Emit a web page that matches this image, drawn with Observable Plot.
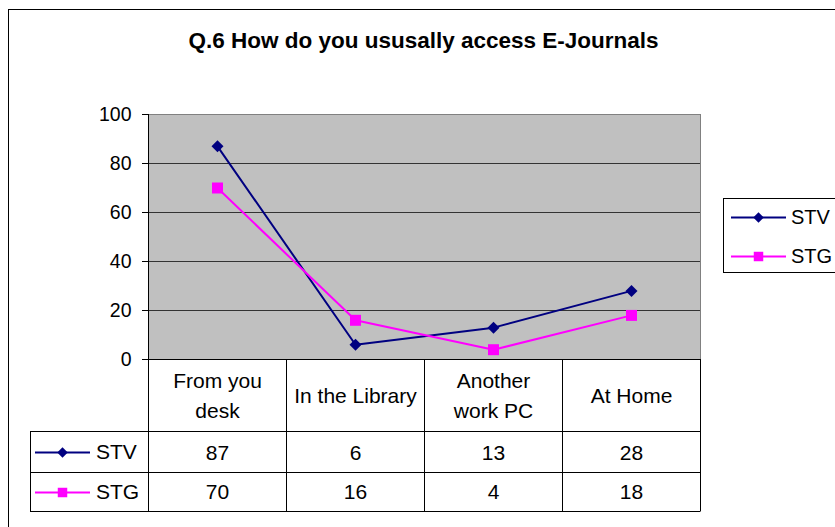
<!DOCTYPE html>
<html><head><meta charset="utf-8">
<script src="https://cdn.jsdelivr.net/npm/d3@7"></script>
<script src="https://cdn.jsdelivr.net/npm/@observablehq/plot@0.6"></script>
<style>
html,body{margin:0;padding:0;background:#fff;}
#chart svg{display:block;}
</style></head><body><div id="chart"></div>
<script>
const title = "Q.6 How do you ususally access E-Journals";
const categories = ["From you desk","In the Library","Another work PC","At Home"];
const headerLabels = ["From you\ndesk","In the Library","Another\nwork PC","At Home"];
const seriesNames = ["STV","STG"];
const stvValues = [87,6,13,28];
const stgValues = [70,16,4,18];
const yTicks = [0,20,40,60,80,100];
const seriesColors = ["#000080","#FF00FF"];
const seriesSymbols = ["diamond2","square"];

const rows = [];
[stvValues, stgValues].forEach((vals, s) => vals.forEach((v, i) => rows.push({series: seriesNames[s], cat: categories[i], value: v})));
const headers = categories.map((c, i) => ({cat: c, label: headerLabels[i]}));
const font = "'Liberation Sans', Arial, sans-serif";
const px = v => Math.round(v) + 0.5;

function drawLegendEntry(g, s, x0, x1, yc, textX, fontSize) {
  g.append("line").attr("x1", x0).attr("x2", x1).attr("y1", px(yc)).attr("y2", px(yc))
    .attr("stroke", seriesColors[s]).attr("stroke-width", 2);
  const sym = s === 0 ? d3.symbol(d3.symbolDiamond2, 70) : d3.symbol(d3.symbolSquare, 90);
  g.append("path").attr("d", sym()).attr("transform", `translate(${(x0 + x1) / 2},${px(yc)})`)
    .attr("fill", seriesColors[s]);
  g.append("text").attr("x", textX).attr("y", yc).attr("dy", "0.36em").attr("text-anchor", "start")
    .attr("font-size", fontSize).attr("fill", "#000").text(seriesNames[s]);
}

function decorations(index, scales) {
  const x = scales.x, y = scales.y;
  const bw = x(categories[1]) - x(categories[0]);
  const left = x(categories[0]);
  const right = x(categories[categories.length - 1]) + bw;
  const top = y(100), base = y(0);
  const g = d3.create("svg:g").attr("font-family", font);
  // outer chart border (cropped at right/bottom)
  g.append("rect").attr("x", 8.5).attr("y", 9.5).attr("width", 1000).attr("height", 1000)
    .attr("fill", "none").attr("stroke", "#000");
  // plot area border
  g.append("rect").attr("x", px(left)).attr("y", px(top)).attr("width", Math.round(right - left)).attr("height", Math.round(base - top))
    .attr("fill", "none").attr("stroke", "#808080");
  // data table
  const headerBottom = base + 72, row1Bottom = base + 113, tableBottom = base + 152;
  const legendLeft = 30;
  const t = g.append("g").attr("stroke", "#000").attr("stroke-width", 1);
  categories.forEach(c => {
    t.append("line").attr("x1", px(x(c))).attr("x2", px(x(c))).attr("y1", base).attr("y2", tableBottom);
  });
  t.append("line").attr("x1", px(right)).attr("x2", px(right)).attr("y1", base).attr("y2", tableBottom);
  [headerBottom, row1Bottom, tableBottom].forEach(yy => {
    t.append("line").attr("x1", legendLeft).attr("x2", px(right)).attr("y1", px(yy)).attr("y2", px(yy));
  });
  t.append("line").attr("x1", px(legendLeft)).attr("x2", px(legendLeft)).attr("y1", px(headerBottom)).attr("y2", px(tableBottom));
  // table legend keys
  drawLegendEntry(g, 0, 35, 90, (headerBottom + row1Bottom) / 2, 96, 21);
  drawLegendEntry(g, 1, 35, 90, (row1Bottom + tableBottom) / 2, 96, 21);
  // right legend
  g.append("rect").attr("x", 723.5).attr("y", 198.5).attr("width", 200).attr("height", 74)
    .attr("fill", "#fff").attr("stroke", "#000");
  drawLegendEntry(g, 0, 731, 786, 217, 791, 20);
  drawLegendEntry(g, 1, 731, 786, 256, 791, 20);
  return g.node();
}

const chart = Plot.plot({
  width: 835,
  height: 527,
  marginTop: 114,
  marginBottom: 168,
  marginLeft: 148,
  marginRight: 135,
  style: {fontFamily: font, background: "#fff", color: "#000", overflow: "visible"},
  x: {type: "band", domain: categories, padding: 0, axis: null},
  y: {domain: [0, 100], axis: null},
  marks: [
    Plot.frame({fill: "#c0c0c0", stroke: "none"}),
    Plot.ruleY(yTicks.filter(v => v > 0), {stroke: "#333", strokeWidth: 1}),
    decorations,
    Plot.ruleY([0], {stroke: "#000", strokeWidth: 1}),
    Plot.frame({anchor: "left", stroke: "#000"}),
    Plot.axisY(yTicks, {tickSize: 6, tickPadding: 11, fontSize: 19.5, stroke: "#000", label: null}),
    Plot.line(rows, {x: "cat", y: "value", z: "series", stroke: d => seriesColors[seriesNames.indexOf(d.series)], strokeWidth: 2}),
    Plot.dot(rows.filter(d => d.series === "STV"), {x: "cat", y: "value", symbol: () => seriesSymbols[0], fill: seriesColors[0], r: 5.4}),
    Plot.dot(rows.filter(d => d.series === "STG"), {x: "cat", y: "value", symbol: () => seriesSymbols[1], fill: seriesColors[1], r: 6.2}),
    Plot.text(headers, {x: "cat", y: () => 0, text: "label", dy: 34, lineHeight: 1.4, fontSize: 21, fill: "#000"}),
    Plot.text(rows.filter(d => d.series === "STV"), {x: "cat", y: () => 0, text: d => String(d.value), dy: 93.5, fontSize: 21, fill: "#000"}),
    Plot.text(rows.filter(d => d.series === "STG"), {x: "cat", y: () => 0, text: d => String(d.value), dy: 132.5, fontSize: 21, fill: "#000"}),
    Plot.text([title], {frameAnchor: "top", lineAnchor: "middle", dx: -1, dy: -74, text: d => d, fontSize: 22.5, fontWeight: "bold", fill: "#000"})
  ]
});
document.getElementById("chart").appendChild(chart);
</script>
</body></html>
